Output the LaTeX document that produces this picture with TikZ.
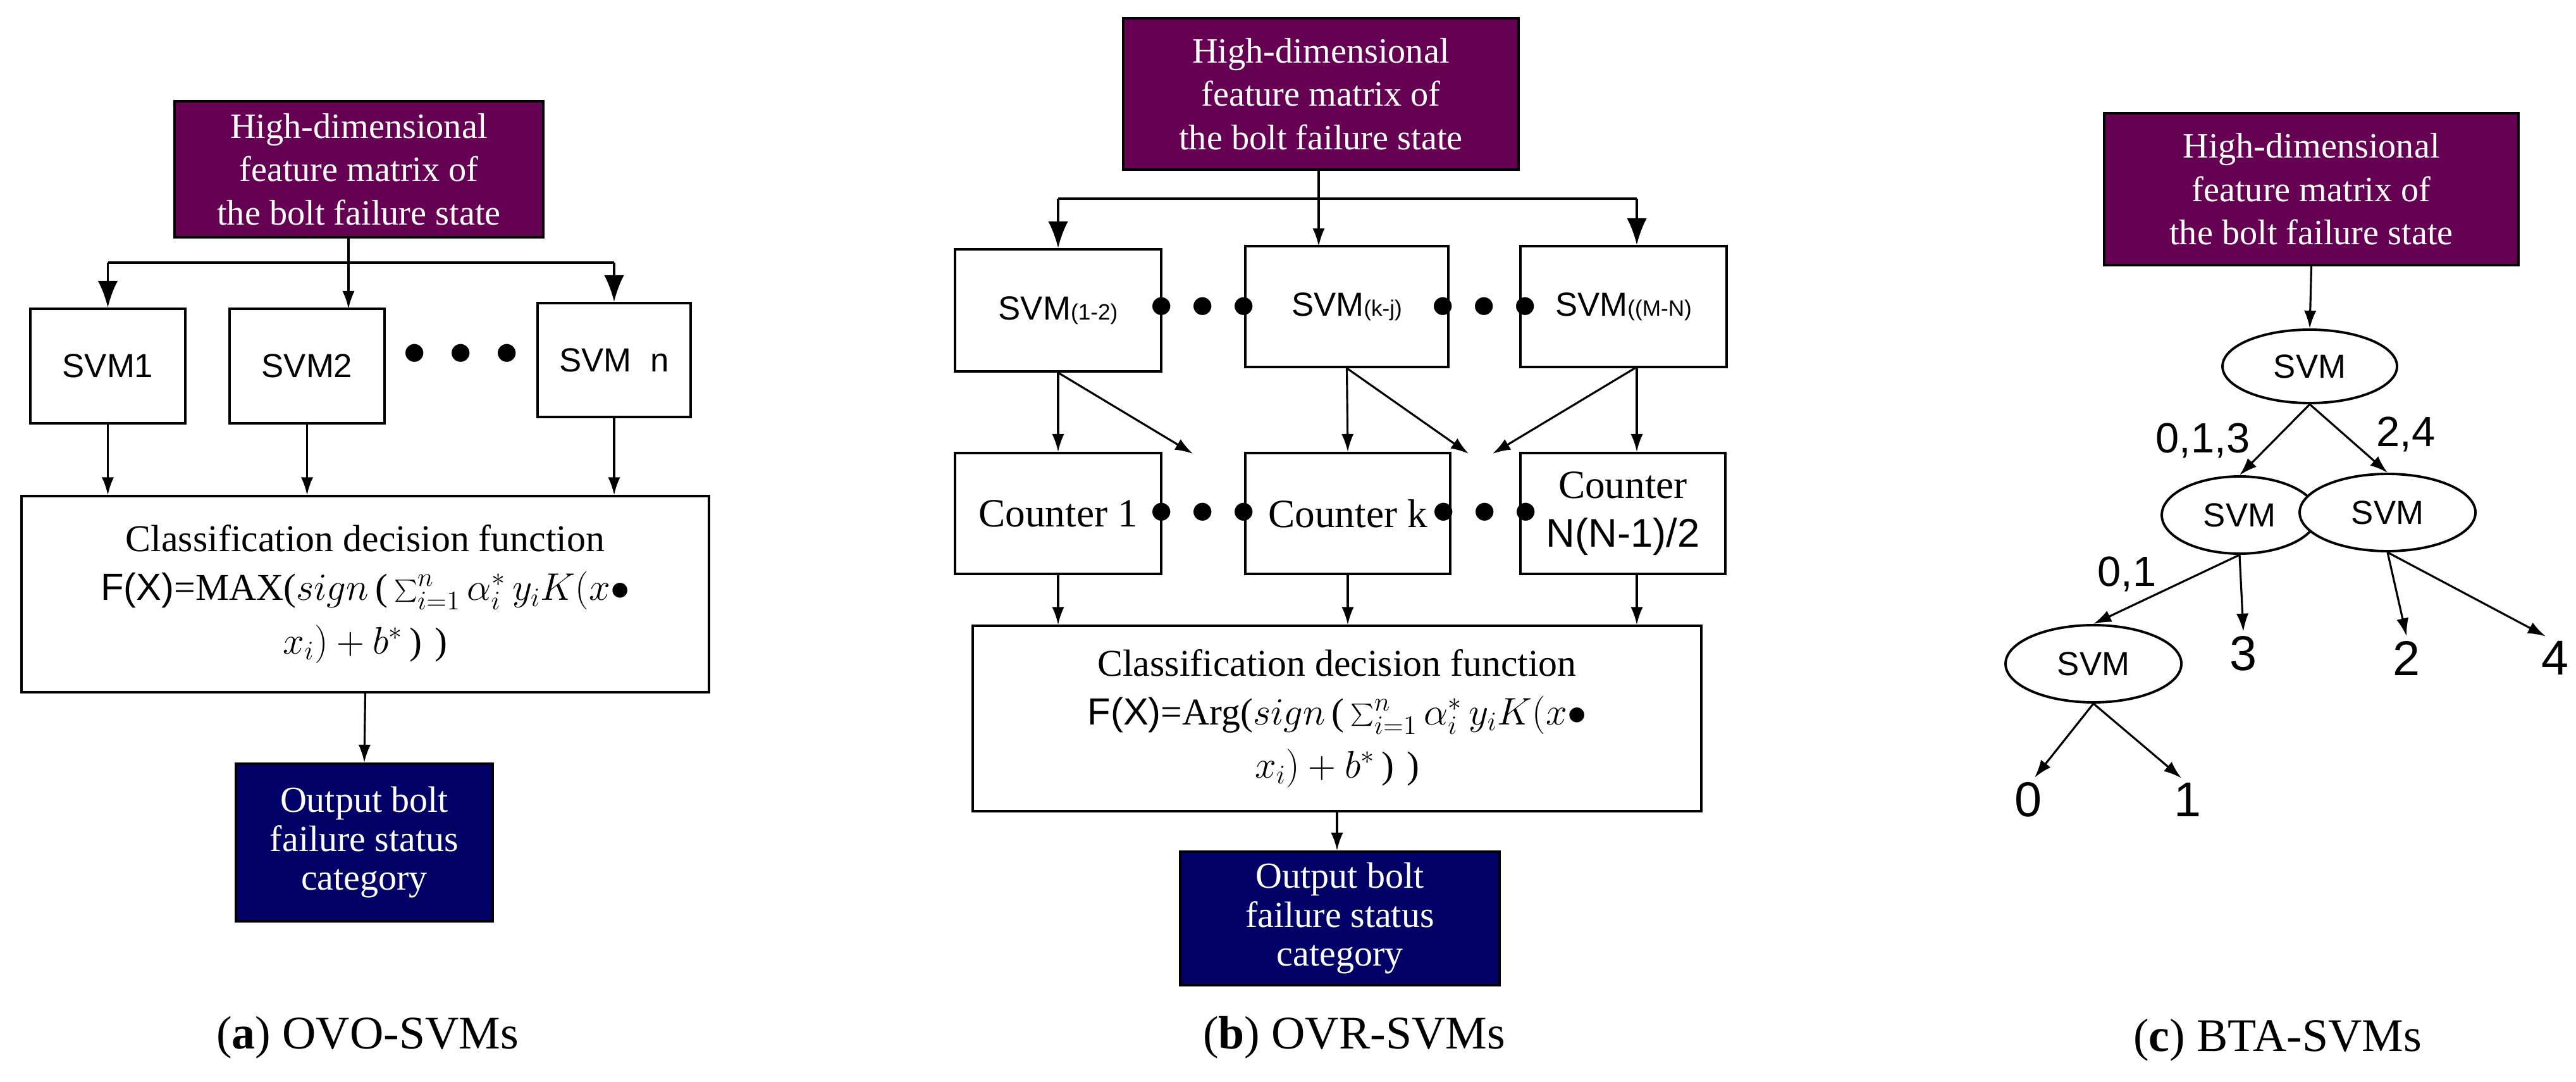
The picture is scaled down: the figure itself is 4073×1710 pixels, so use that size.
\documentclass[tikz,border=0pt]{standalone}
\usepackage{fontspec}
\setmainfont{Liberation Serif}
\setsansfont{Liberation Sans}
\usetikzlibrary{arrows.meta,shapes.geometric}
\definecolor{pur}{RGB}{102,0,82}
\definecolor{nav}{RGB}{0,0,102}
\begin{document}
\begin{tikzpicture}[x=0.01cm,y=-0.01cm,
  sz/.style 2 args={minimum width=#1*0.01cm,minimum height=#2*0.01cm},
  box/.style={draw,line width=1.1pt,inner sep=0pt,align=center},
  pbox/.style={box,fill=pur,text=white,font=\fontsize{16}{19.5}\selectfont},
  obox/.style={box,fill=nav,text=white,font=\fontsize{16.5}{17.5}\selectfont},
  sbox/.style={box,font=\sffamily\fontsize{15}{16}\selectfont},
  cbox/.style={box,font=\fontsize{18}{22}\selectfont},
  fbox/.style={box,line width=0.9pt,font=\fontsize{17}{24}\selectfont},
  ell/.style={draw,ellipse,line width=1.1pt,fill=white,inner sep=0pt,font=\sffamily\fontsize{15}{16}\selectfont},
  lab/.style={inner sep=2pt,font=\sffamily\fontsize{19}{20}\selectfont},
  leaf/.style={inner sep=2pt,font=\sffamily\fontsize{22}{22}\selectfont},
  captxt/.style={font=\fontsize{21}{24}\selectfont},
  dots/.style={font=\fontsize{20}{20}\selectfont\bfseries},
  arr/.style={line width=0.9pt,-{Latex[length=8pt,width=5.5pt]}},
  barr/.style={line width=1.1pt,-{Latex[length=12pt,width=9pt]}},
  ln/.style={line width=1.1pt}]
\useasboundingbox (0,0) rectangle (4073,1710);
% ---------------- (a)
\node[pbox,sz={583}{215}] (pa) at (567.5,267.5) {High-dimensional\\feature matrix of\\the bolt failure state};
\node[sbox,sz={245}{181}] (a1) at (170.5,578.5) {SVM1};
\node[sbox,sz={245}{181}] (a2) at (485.5,578.5) {SVM2};
\node[sbox,sz={242}{180}] (an) at (971,569) {SVM\ \ n};
\node[dots] (ad) at (729,560) {$\bullet\;\bullet\;\bullet$};
\node[fbox,sz={1087}{310}] (fa) at (577.5,939) {Classification decision function\\[-2pt]
 \textsf{F(X)}=MAX($sign$\,(\,$\sum_{i=1}^{n}\alpha_i^{*}\,y_iK(x\bullet$\\ $x_i)+b^{*}$\,)\,\,)};
\node[obox,sz={406}{249}] (oa) at (576,1331.5) {Output bolt\\failure status\\category};
\node[captxt] (ca) at (581,1640) {(\textbf{a}) OVO-SVMs};
\coordinate (ja) at (a1.north |- 0,415);
\coordinate (jn) at (an.north |- 0,415);
\coordinate (ta2) at (551,488);
\draw[ln] (ja) -- (jn);
\draw[arr] (pa.south -| ta2) -- (ta2);
\draw[barr] (ja) -- (a1.north);
\draw[barr] (jn) -- (an.north);
\draw[arr] (a1.south) -- (a1.south |- fa.north);
\draw[arr] (a2.south) -- (a2.south |- fa.north);
\draw[arr] (an.south) -- (an.south |- fa.north);
\draw[arr] (fa.south) -- (oa.north);
% ---------------- (b)
\node[pbox,sz={625}{239}] (pb) at (2088.5,148.5) {High-dimensional\\feature matrix of\\the bolt failure state};
\node[sbox,sz={326}{193}] (b1) at (1673,490.5) {SVM{\fontsize{10}{10}\selectfont(1-2)}};
\node[sbox,sz={321}{191}] (bk) at (2129.5,484.5) {SVM{\fontsize{10}{10}\selectfont(k-j)}};
\node[sbox,sz={326}{191}] (bm) at (2567,484.5) {SVM{\fontsize{10}{10}\selectfont((M-N)}};
\node[dots] (bd1) at (1902,486) {$\bullet\,\bullet\,\bullet$};
\node[dots] (bd2) at (2347,486) {$\bullet\,\bullet\,\bullet$};
\node[cbox,sz={326}{191}] (k1) at (1673,811.5) {Counter 1};
\node[cbox,sz={324}{191}] (kk) at (2131,811.5) {Counter k};
\node[cbox,sz={324}{191}] (kn) at (2566,811.5) {Counter\\\sffamily N(N-1)/2};
\node[dots] (bd3) at (1902,811) {$\bullet\,\bullet\,\bullet$};
\node[dots] (bd4) at (2348,811) {$\bullet\,\bullet\,\bullet$};
\node[fbox,sz={1152}{293}] (fb) at (2114,1135.5) {Classification decision function\\[-2pt]
 \textsf{F(X)}=Arg($sign$\,(\,$\sum_{i=1}^{n}\alpha_i^{*}\,y_iK(x\bullet$\\ $x_i)+b^{*}$\,)\,\,)};
\node[obox,sz={505}{211}] (ob) at (2118.5,1451.5) {Output bolt\\failure status\\category};
\node[captxt] (cb) at (2141,1640) {(\textbf{b}) OVR-SVMs};
\coordinate (jb1) at (b1.north |- 0,314);
\coordinate (jbm) at (2588,314);
\coordinate (t1) at (1886,717);
\coordinate (t2) at (2322,717);
\coordinate (t3) at (2360,717);
\coordinate (tk) at (2085,389);
\coordinate (mb) at (2588,580);
\draw[ln] (jb1) -- (jbm);
\draw[arr] (pb.south -| tk) -- (tk);
\draw[barr] (jb1) -- (b1.north);
\draw[barr] (jbm) -- (mb |- bm.north);
\draw[arr] (b1.south) -- (k1.north);
\draw[arr] (b1.south) -- (t1);
\draw[arr] (bk.south) -- (kk.north);
\draw[arr] (bk.south) -- (t2);
\draw[arr] (mb) -- (t3);
\draw[arr] (mb) -- (mb |- kn.north);
\draw[arr] (k1.south) -- (k1.south |- fb.north);
\draw[arr] (kk.south) -- (kk.south |- fb.north);
\draw[arr] (mb |- kn.south) -- (mb |- fb.north);
\draw[arr] (fb.south) -- (ob.north -| fb.south);
% ---------------- (c)
\node[pbox,sz={655}{240}] (pc) at (3654.5,299) {High-dimensional\\feature matrix of\\the bolt failure state};
\node[ell,sz={276}{116}] (r) at (3652,579) {SVM};
\node[ell,sz={246}{122}] (e1) at (3541,814) {SVM};
\node[ell,sz={278}{122}] (e2) at (3775,810) {SVM};
\node[ell,sz={278}{122}] (e3) at (3310,1049) {SVM};
\node[leaf] (n3) at (3547,1033) {3};
\node[leaf] (n2) at (3805,1040) {2};
\node[leaf] (n4) at (4040,1040) {4};
\node[leaf] (n0) at (3207,1264) {0};
\node[leaf] (n1) at (3459,1264) {1};
\node[lab] (l1) at (3483,696) {0,1,3};
\node[lab] (l2) at (3804,686) {2,4};
\node[lab] (l3) at (3363,907) {0,1};
\node[captxt] (cc) at (3601,1644) {(\textbf{c}) BTA-SVMs};
\draw[arr] (pc.south) -- (r.north);
\draw[arr] (r.south) -- (e1.north);
\draw[arr] (r.south) -- (e2.north);
\draw[arr] (e1.south) -- (e3.north);
\draw[arr] (e1.south) -- (n3.north);
\draw[arr] (e2.south) -- (n2.north);
\draw[arr] (e2.south) -- ([xshift=-0.15cm]n4.north);
\draw[arr] (e3.south) -- ([xshift=0.1cm]n0.north);
\draw[arr] (e3.south) -- ([xshift=-0.1cm]n1.north);
\end{tikzpicture}
\end{document}
